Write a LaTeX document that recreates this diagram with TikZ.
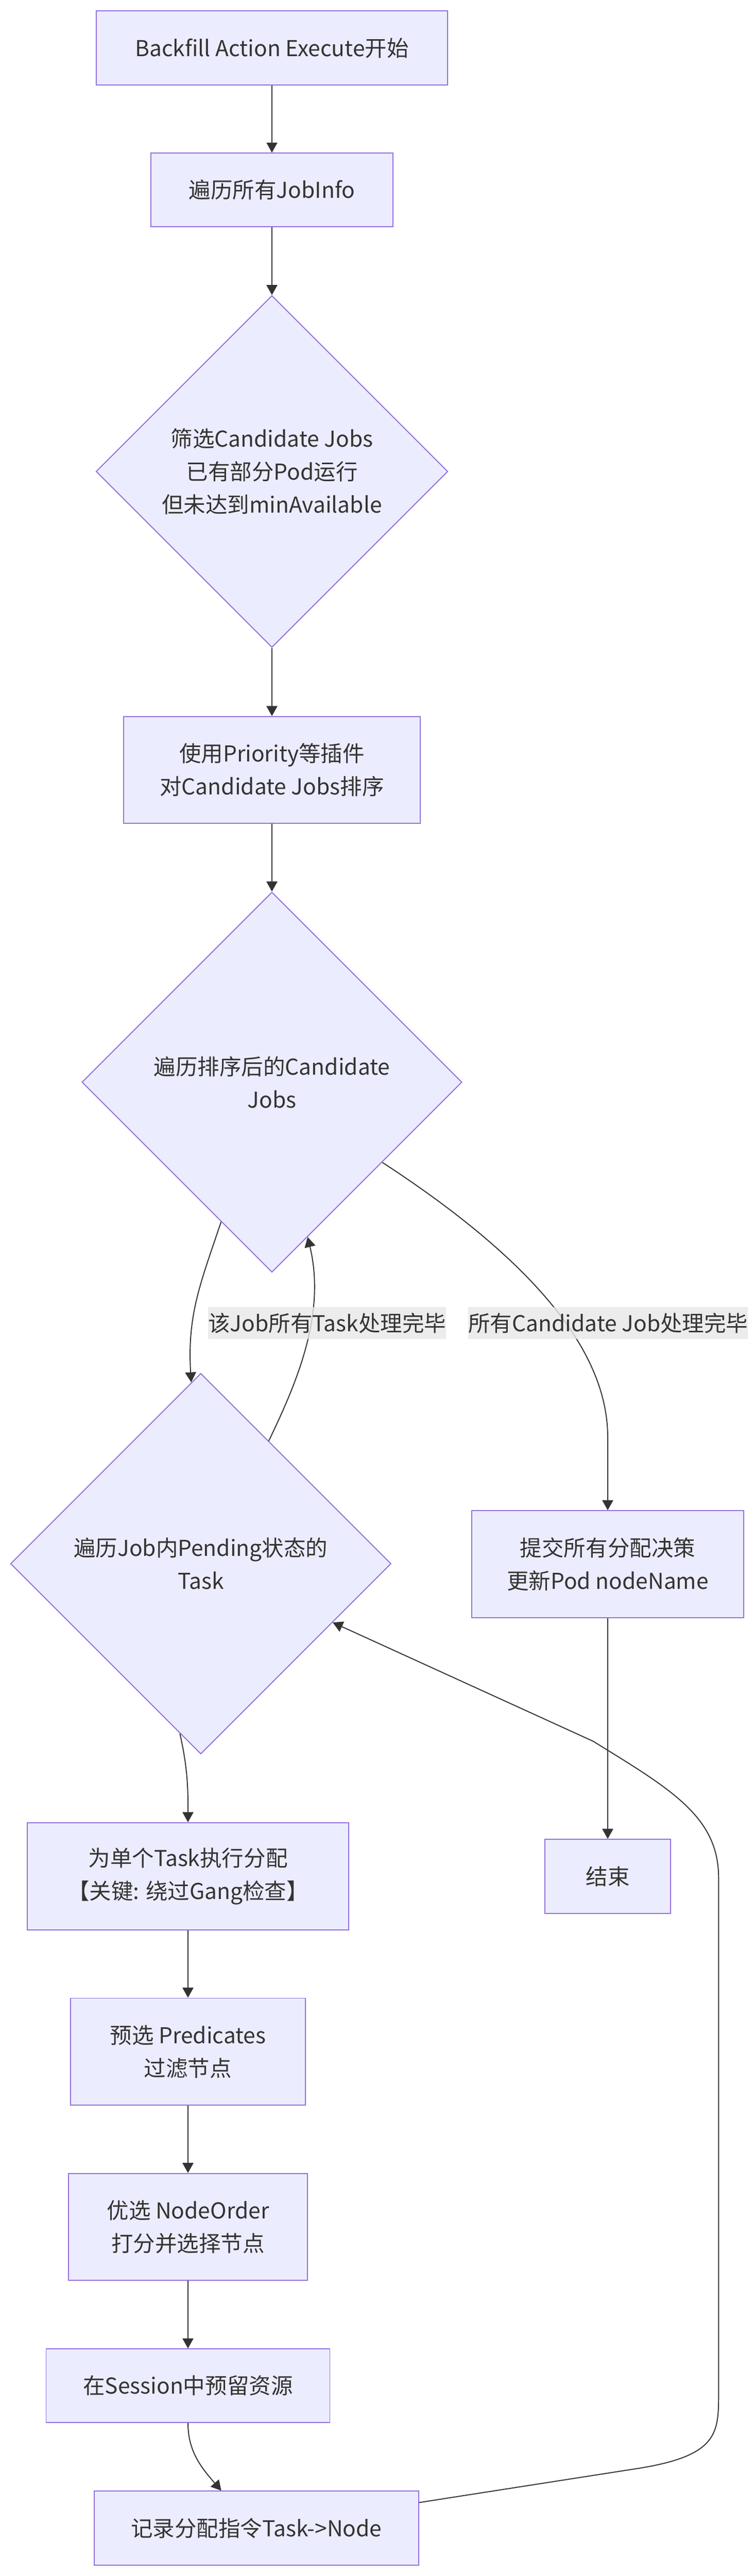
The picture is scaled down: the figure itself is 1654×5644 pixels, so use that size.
\documentclass[tikz,border=0pt]{standalone}
\usepackage{fontspec}
\setmainfont{Noto Sans CJK SC}
\usetikzlibrary{shapes.geometric,arrows.meta,calc}
\definecolor{nodefill}{HTML}{ECECFF}
\definecolor{nodeborder}{HTML}{9370DB}
\definecolor{edgecol}{HTML}{333333}
\definecolor{txtcol}{HTML}{333333}
\definecolor{lblbg}{HTML}{E8E8E8}
\begin{document}
\begin{tikzpicture}[x=1pt,y=-1pt,
  txt/.style={text=txtcol, font=\fontsize{48pt}{72pt}\selectfont, align=center},
  box/.style={txt, draw=nodeborder, fill=nodefill, line width=2.2pt, rectangle, inner sep=0pt},
  dia/.style={txt, draw=nodeborder, fill=nodefill, line width=2.2pt, diamond, aspect=1, inner sep=0pt, minimum width=#1, minimum height=#1},
  lbl/.style={txt, fill=lblbg, fill opacity=0.8, text opacity=1, inner sep=0pt, minimum height=70pt},
  conn/.style={draw=edgecol, line width=2.2pt, -{Triangle[width=24pt,length=22pt]}}
]
\fill[white] (0,0) rectangle (1654,5644);
\useasboundingbox (0,0) rectangle (1654,5644);

% nodes
\node[box, minimum width=770pt, minimum height=162pt] (start) at (596,105) {Backfill Action Execute开始};
\node[box, minimum width=530pt, minimum height=161pt] (jobinfo) at (596,416) {遍历所有JobInfo};
\node[dia=771pt] (filter) at (596,1033) {筛选Candidate Jobs\\已有部分Pod运行\\但未达到minAvailable};
\node[box, minimum width=650pt, minimum height=234pt] (sort) at (596,1687) {使用Priority等插件\\对Candidate Jobs排序};
\node[dia=833pt] (loopjobs) at (596,2371) {遍历排序后的Candidate\\Jobs};
\node[dia=834pt] (looptasks) at (440,3426) {遍历Job内Pending状态的\\Task};
\node[box, minimum width=595pt, minimum height=234pt] (submit) at (1332,3427) {提交所有分配决策\\更新Pod nodeName};
\node[box, minimum width=276pt, minimum height=162pt] (endn) at (1332,4111) {结束};
\node[box, minimum width=705pt, minimum height=235pt] (alloc) at (412,4111) {为单个Task执行分配\\【关键: 绕过Gang检查】};
\node[box, minimum width=514pt, minimum height=234pt] (pred) at (412,4495) {预选 Predicates\\过滤节点};
\node[box, minimum width=523pt, minimum height=234pt] (order) at (412,4879) {优选 NodeOrder\\打分并选择节点};
\node[box, minimum width=622pt, minimum height=161pt] (reserve) at (412,5227) {在Session中预留资源};
\node[box, minimum width=711pt, minimum height=162pt] (record) at (562,5539) {记录分配指令Task->Node};

% connectors
\draw[conn] (start) -- (jobinfo);
\draw[conn] (jobinfo) -- (filter);
\draw[conn] (filter) -- (sort);
\draw[conn] (sort) -- (loopjobs);
\draw[conn] (loopjobs.250.5) .. controls (440,2810) and (410,2880) .. (looptasks.93.6);
\draw[conn] (looptasks.61.9) .. controls (650,3030) and (715,2880) .. (loopjobs.283.9);
\draw[conn] (loopjobs.324.4) .. controls (1150,2750) and (1332,2950) .. ($(submit.north)+(0,-160)$) -- (submit.north);
\draw[conn] (submit) -- (endn);
\draw[conn] (looptasks.263) .. controls (413,3880) and (412,3930) .. (alloc.north);
\draw[conn] (alloc) -- (pred);
\draw[conn] (pred) -- (order);
\draw[conn] (order) -- (reserve);
\draw[conn] (reserve.south) .. controls (412,5370) and (440,5405) .. ($(record.north)+(-77,0)$);
\draw[conn] ($(record.east)+(0,-56)$) -- (1400,5408) .. controls (1575,5380) and (1575,5330) .. (1575,5243) -- (1575,4114) .. controls (1575,3980) and (1470,3920) .. (1300,3815) -- (looptasks.336.2);

% labels
\node[lbl, minimum width=500pt] (l1) at (717,2899) {该Job所有Task处理完毕};
\node[lbl, minimum width=596pt] (l2) at (1333,2899) {所有Candidate Job处理完毕};
\end{tikzpicture}
\end{document}
